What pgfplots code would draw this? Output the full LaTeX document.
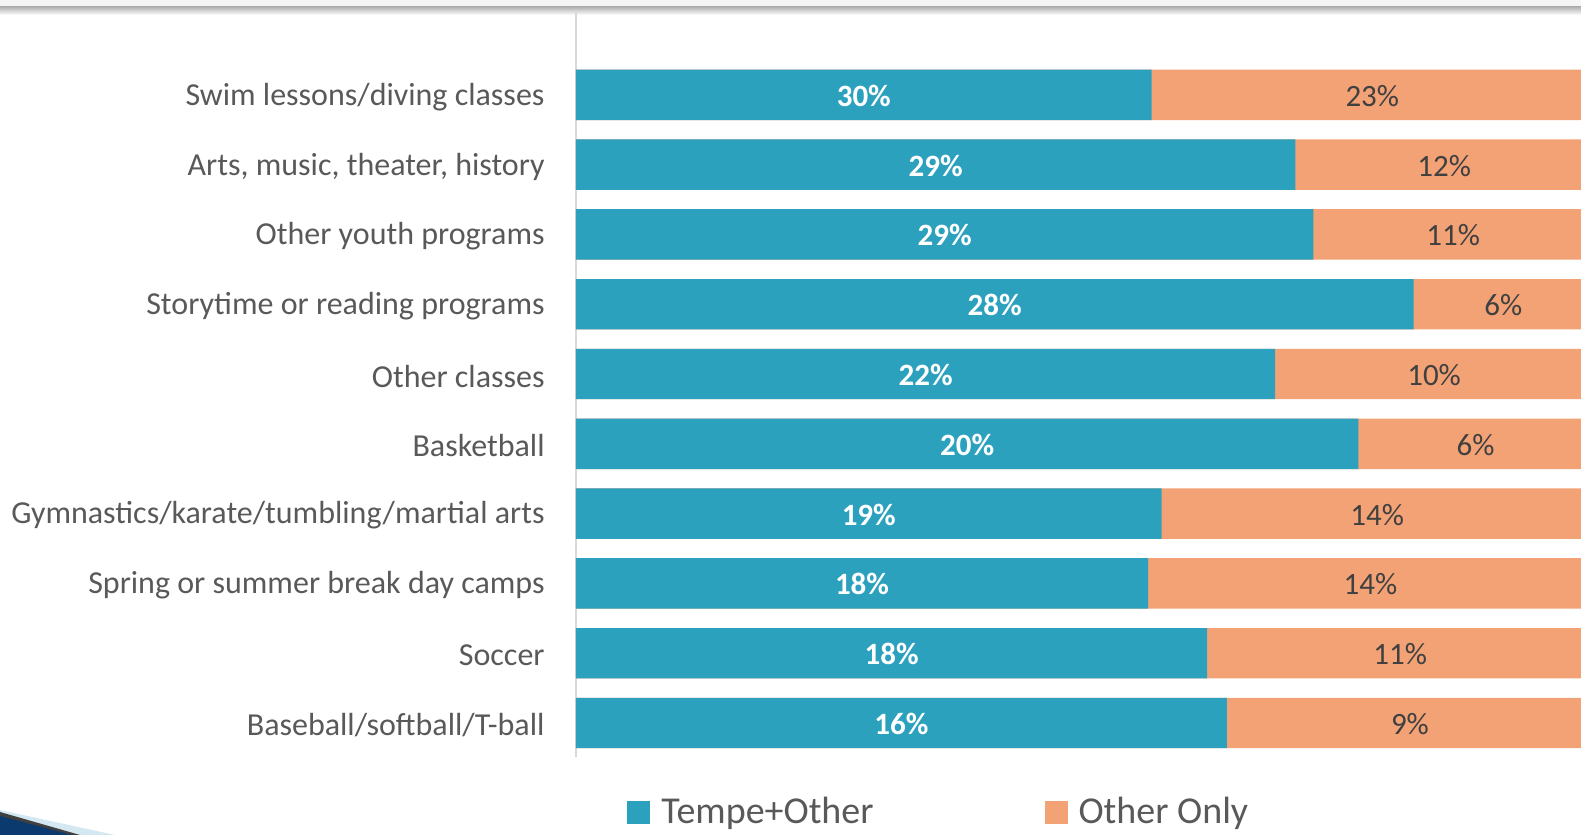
\documentclass[border=0pt]{standalone}
\usepackage{pgfplots}
\pgfplotsset{compat=1.18}
\usepackage{pgfplotstable}
\usepackage{fontspec}
\setmainfont{Carlito}
\definecolor{teal1}{HTML}{2CA1BE}
\definecolor{orange1}{HTML}{F2A275}
\definecolor{labgrey}{HTML}{595959}
\definecolor{darkgrey}{HTML}{404040}
\definecolor{axgrey}{HTML}{D9D9D9}
\definecolor{navy1}{HTML}{0B3A6E}
\definecolor{ltblue}{HTML}{D3E8F1}

\pgfplotstableread{
row a b
0 30 23
1 29 12
2 29 11
3 28 6
4 22 10
5 20 6
6 19 14
7 18 14
8 18 11
9 16 9
}\datatable

\begin{document}
\begin{tikzpicture}
% slide decorations
\fill[gray!8] (0,414pt) rectangle (790.5pt,417.5pt);
\shade[top color=gray!60, bottom color=white] (0,410pt) rectangle (790.5pt,414pt);
\fill[ltblue] (0,12.5pt) -- (57.5pt,0) -- (0,0) -- cycle;
\fill[darkgrey] (0,11.5pt) -- (40pt,0) -- (0,0) -- cycle;
\fill[navy1] (0,9.5pt) -- (36pt,0) -- (0,0) -- cycle;

\begin{axis}[
  at={(288pt,39pt)}, anchor=south west,
  scale only axis, width=502.5pt, height=373.5pt,
  xmin=0, xmax=98.82,
  ymin=-1.215, ymax=9.487, y dir=reverse,
  axis x line=none,
  axis y line*=left,
  y axis line style={draw=axgrey, line width=0.75pt, -},
  ytick={0,...,9},
  yticklabels={Swim lessons/diving classes, {Arts, music, theater, history}, Other youth programs, Storytime or reading programs, Other classes, Basketball, Gymnastics/karate/tumbling/martial arts, Spring or summer break day camps, Soccer, Baseball/softball/T-ball},
  yticklabel style={font=\fontsize{16}{19}\selectfont, text=labgrey, inner xsep=0pt, xshift=-15.5pt, yshift=-1pt},
  ytick style={draw=none},
  xtick=\empty,
  legend columns=2,
  legend cell align=left,
  legend style={at={(0.0507,-0.074)}, anchor=west, draw=none, fill=none,
    inner sep=0pt, font=\fontsize{19}{22}\selectfont, text=labgrey,
    nodes={inner xsep=0pt, inner ysep=0pt},
    /tikz/every odd column/.append style={column sep=5.5pt},
    /tikz/every even column/.append style={column sep=85.5pt}},
  legend image code/.code={\fill[#1] (0pt,-5.75pt) rectangle (11.5pt,5.75pt);},
]
\addplot[xbar, bar width=25.2pt, bar shift=0pt, fill=orange1, draw=none, forget plot]
  table[x expr={100*(\thisrow{a}+\thisrow{b})/(\thisrow{a}+\thisrow{b})}, y=row] {\datatable};
\addplot[xbar, bar width=25.2pt, bar shift=0pt, fill=teal1, draw=none, forget plot]
  table[x expr={100*\thisrow{a}/(\thisrow{a}+\thisrow{b})}, y=row] {\datatable};
% labels
\addplot[draw=none, mark=none, forget plot, point meta=explicit,
  nodes near coords={\pgfmathprintnumber[assume math mode=true]{\pgfplotspointmeta}\%},
  every node near coord/.append style={anchor=center, yshift=-0.5pt, text=white, font=\fontsize{15.5}{18}\selectfont\bfseries}]
  table[x expr={50*\thisrow{a}/(\thisrow{a}+\thisrow{b})}, y=row, meta=a] {\datatable};
\addplot[draw=none, mark=none, forget plot, point meta=explicit,
  nodes near coords={\pgfmathprintnumber[assume math mode=true]{\pgfplotspointmeta}\%},
  every node near coord/.append style={anchor=center, yshift=-0.5pt, text=darkgrey, font=\fontsize{15.5}{18}\selectfont}]
  table[x expr={50+50*\thisrow{a}/(\thisrow{a}+\thisrow{b})}, y=row, meta=b] {\datatable};
\addlegendimage{fill=teal1, draw=none}
\addlegendentry{Tempe+Other}
\addlegendimage{fill=orange1, draw=none}
\addlegendentry{Other Only}
\end{axis}
\pgfresetboundingbox
\path[use as bounding box] (0,0) rectangle (790.5pt,417.5pt);
\end{tikzpicture}
\end{document}
